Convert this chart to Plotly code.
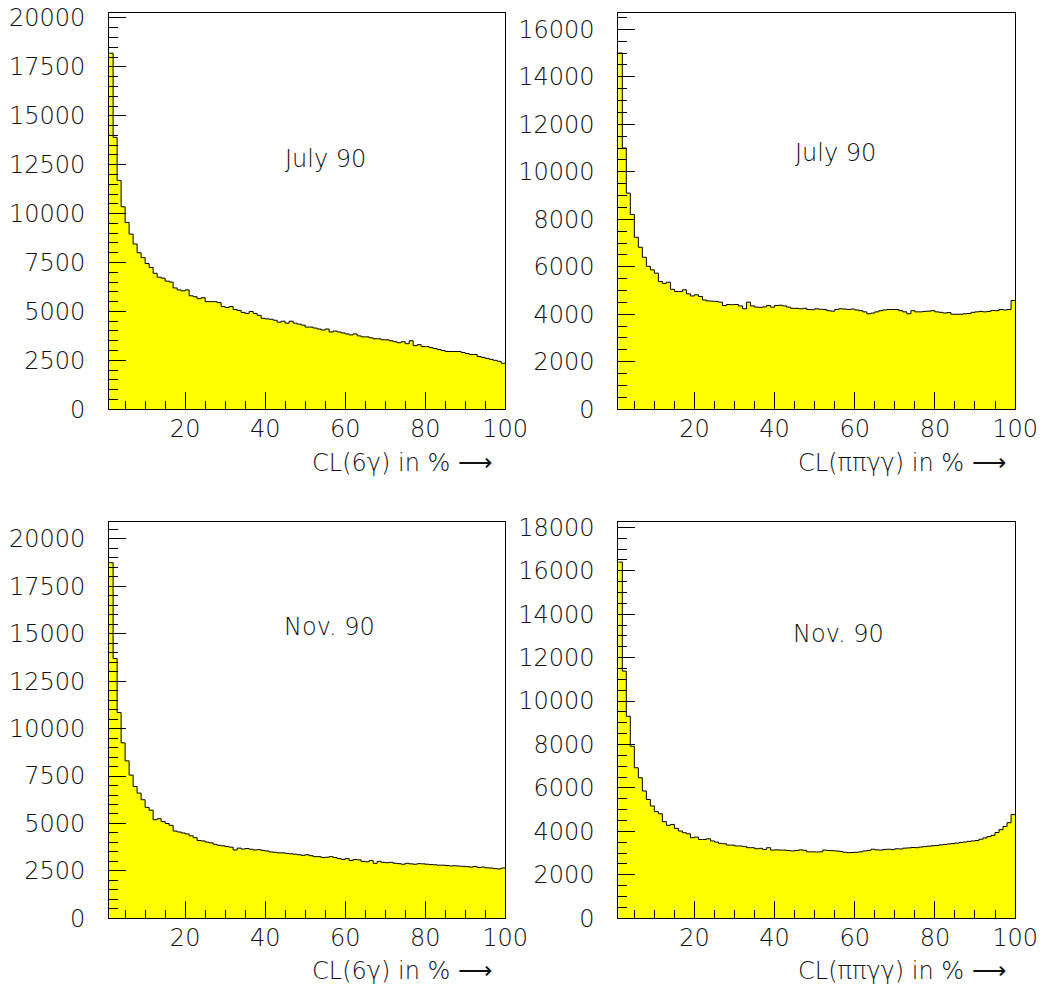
import plotly.graph_objects as go

# ---------------- data (counts per 1% bin, CL from 1 to 100) ----------------
BIN_LO, BIN_HI, BIN_W = 1, 100, 1

july_6g = [18200, 13900, 11700, 10350, 9550, 8950, 8450, 8000, 7750, 7450,
           7250, 6950, 6750, 6700, 6550, 6500, 6200, 6100, 6050, 6100,
           5800, 5750, 5650, 5700, 5500, 5500, 5500, 5450, 5250, 5200,
           5250, 5100, 5050, 4950, 4900, 5000, 4900, 4800, 4650, 4620,
           4600, 4550, 4450, 4500, 4400, 4500, 4400, 4350, 4300, 4200,
           4200, 4150, 4100, 4050, 4100, 3950, 4000, 3950, 3900, 3850,
           3800, 3850, 3750, 3700, 3700, 3650, 3600, 3600, 3550, 3550,
           3500, 3450, 3400, 3450, 3350, 3500, 3250, 3300, 3200, 3200,
           3150, 3100, 3050, 3000, 2950, 2950, 2950, 2950, 2900, 2850,
           2800, 2800, 2700, 2650, 2600, 2550, 2500, 2450, 2350]

july_pp = [15000, 11000, 9100, 8200, 7240, 6820, 6400, 6020, 5870, 5730,
           5380, 5300, 5350, 5050, 4960, 4960, 5030, 4860, 4770, 4820,
           4750, 4600, 4560, 4550, 4540, 4510, 4370, 4410, 4400, 4410,
           4350, 4230, 4510, 4350, 4300, 4290, 4310, 4370, 4300, 4370,
           4380, 4350, 4300, 4250, 4250, 4230, 4250, 4200, 4190, 4230,
           4210, 4200, 4150, 4130, 4200, 4230, 4220, 4200, 4220, 4180,
           4150, 4100, 4020, 4050, 4100, 4150, 4180, 4200, 4200, 4200,
           4150, 4100, 4020, 4150, 4100, 4100, 4120, 4130, 4150, 4100,
           4080, 4050, 4070, 4000, 4000, 4000, 4020, 4030, 4080, 4100,
           4120, 4100, 4120, 4160, 4150, 4200, 4180, 4200, 4580]

nov_6g = [18750, 13700, 10850, 9250, 8300, 7550, 6950, 6600, 6250, 5850,
          5700, 5200, 5250, 5100, 5000, 4900, 4600, 4550, 4500, 4450,
          4350, 4250, 4100, 4080, 4020, 3980, 3900, 3850, 3820, 3780,
          3750, 3600, 3700, 3650, 3680, 3640, 3600, 3620, 3580, 3550,
          3500, 3480, 3450, 3450, 3420, 3400, 3380, 3350, 3320, 3350,
          3300, 3250, 3250, 3200, 3220, 3250, 3200, 3150, 3100, 3150,
          3050, 3100, 3080, 3000, 2980, 3050, 2900, 3000, 2950, 2930,
          2950, 2900, 2880, 2850, 2900, 2870, 2850, 2880, 2870, 2850,
          2830, 2820, 2800, 2800, 2780, 2760, 2770, 2750, 2740, 2720,
          2700, 2730, 2680, 2700, 2660, 2650, 2620, 2600, 2650]

nov_pp = [16400, 11380, 9300, 7920, 6930, 6470, 5860, 5470, 5170, 4910,
          4810, 4450, 4280, 4320, 4140, 4020, 3940, 3890, 3710, 3740,
          3630, 3630, 3660, 3560, 3510, 3450, 3430, 3370, 3370, 3330,
          3330, 3300, 3250, 3250, 3200, 3220, 3170, 3250, 3140, 3150,
          3140, 3140, 3120, 3100, 3120, 3150, 3130, 3060, 3060, 3050,
          3060, 3140, 3120, 3110, 3100, 3080, 3040, 3020, 3030, 3040,
          3060, 3100, 3120, 3180, 3150, 3140, 3170, 3180, 3160, 3200,
          3190, 3230, 3240, 3260, 3250, 3280, 3300, 3320, 3340, 3350,
          3380, 3400, 3420, 3440, 3460, 3490, 3510, 3540, 3560, 3580,
          3640, 3700, 3760, 3820, 3950, 4080, 4230, 4400, 4780]

x_ticks = [20, 40, 60, 80, 100]
labels = ["July 90", "July 90", "Nov. 90", "Nov. 90"]
x_titles = ["CL(6γ) in % ⟶", "CL(ππγγ) in % ⟶", "CL(6γ) in % ⟶", "CL(ππγγ) in % ⟶"]
series = [july_6g, july_pp, nov_6g, nov_pp]
y_max = [20240, 16672, 20879, 18230]
y_major = [2500, 2000, 2500, 2000]
y_minor = [500, 500, 500, 500]

# ---------------- layout geometry (target screen pixels -> paper) ----------------
SCREEN_W, SCREEN_H = 1045, 994
S = 0.98          # observed display scale of the page
TOP = 7           # observed top offset of the figure on the page
W = round(SCREEN_W / S)
H = round((SCREEN_H - TOP) / S)


def px(x):
    return x / (W * S)


def py(y):
    return 1 - (y - TOP) / (H * S)


LEFT_X = [109.3, 506.0]
RIGHT_X = [619.3, 1016.7]
TOP_Y = [12.3, 409.0]
BOT_Y = [522.3, 919.0]

xdoms = [[px(a) for a in LEFT_X], [px(a) for a in RIGHT_X]] * 2
ydoms = [[py(TOP_Y[1]), py(TOP_Y[0])]] * 2 + [[py(BOT_Y[1]), py(BOT_Y[0])]] * 2
label_pos = [(0.546, 0.633), (0.548, 0.648), (0.556, 0.736), (0.555, 0.718)]
title_pos = [(495, 463), (1010, 463), (495, 972), (1010, 972)]

FONT = dict(family="DejaVu Sans", size=24, color="#111111", weight=200)

fig = go.Figure()
edges = [BIN_LO + i * BIN_W for i in range(int((BIN_HI - BIN_LO) / BIN_W) + 1)]

for k in range(4):
    xa = "x" if k == 0 else f"x{k+1}"
    ya = "y" if k == 0 else f"y{k+1}"
    vals = series[k]
    xs = edges[:len(vals)] + [edges[len(vals)]]
    ys = vals + [vals[-1]]
    fig.add_trace(go.Scatter(
        x=xs, y=ys, mode="lines", line=dict(shape="hv", color="black", width=1),
        fill="tozeroy", fillcolor="#FFFF00", xaxis=xa, yaxis=ya,
        showlegend=False, hoverinfo="skip"))

    axn = "" if k == 0 else str(k + 1)
    fig.layout[f"xaxis{axn}"] = dict(
        domain=xdoms[k], anchor=ya, range=[BIN_LO, BIN_HI],
        tickmode="array", tickvals=x_ticks, ticktext=[str(v) for v in x_ticks],
        ticks="inside", ticklen=17, tickwidth=1, tickcolor="black",
        minor=dict(ticks="inside", ticklen=8, dtick=5, tick0=0, tickcolor="black", tickwidth=1),
        showline=True, linecolor="black", linewidth=1, mirror=True,
        showgrid=False, zeroline=False, tickfont=FONT, ticklabelstandoff=-2)
    fig.layout[f"yaxis{axn}"] = dict(
        domain=ydoms[k], anchor=xa, range=[0, y_max[k]],
        tick0=0, dtick=y_major[k], tickformat="d", exponentformat="none",
        ticks="inside", ticklen=17, tickwidth=1, tickcolor="black",
        minor=dict(ticks="inside", ticklen=9, dtick=y_minor[k], tick0=0, tickcolor="black", tickwidth=1),
        showline=True, linecolor="black", linewidth=1, mirror=True,
        showgrid=False, zeroline=False, tickfont=FONT, ticklabelstandoff=18)

    fig.add_annotation(text=labels[k], xref=f"{xa} domain", yref=f"{ya} domain",
                       x=label_pos[k][0], y=label_pos[k][1], showarrow=False,
                       font=FONT, xanchor="center", yanchor="middle")
    fig.add_annotation(text=x_titles[k], xref="paper", yref="paper",
                       x=px(title_pos[k][0]), y=py(title_pos[k][1]),
                       showarrow=False, font=FONT, xanchor="right", yanchor="middle")

fig.update_layout(width=W, height=H, margin=dict(l=0, r=0, t=0, b=0),
                  paper_bgcolor="white", plot_bgcolor="white")

fig.write_html("out.html")
